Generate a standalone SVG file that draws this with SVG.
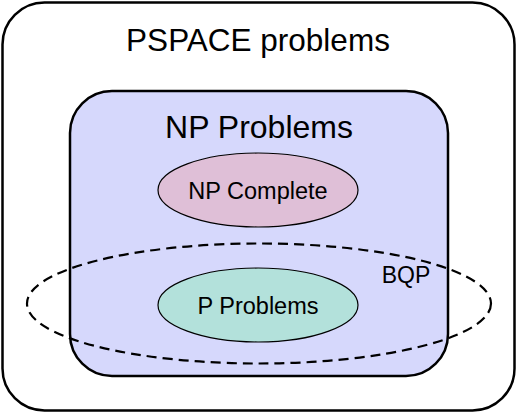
<svg xmlns="http://www.w3.org/2000/svg" width="517" height="413" viewBox="0 0 517 413">
<style>
text{font-family:"Liberation Sans",Arial,sans-serif;fill:#000;text-anchor:middle}
.box{stroke:#000;stroke-width:2.5}
.ell{stroke:#000;stroke-width:1.2}
</style>
<rect width="517" height="413" fill="#fff"/>
<g id="pspace">
<rect class="box" x="2.5" y="2.5" width="512" height="408" rx="42" fill="#fff"/>
<text x="258" y="51" font-size="31.5">PSPACE problems</text>
</g>
<g id="np">
<rect class="box" x="70" y="91" width="378" height="285" rx="42" fill="#d6d8fc"/>
<text x="259" y="138" font-size="32">NP Problems</text>
</g>
<g id="npc">
<ellipse class="ell" cx="258" cy="190" rx="100" ry="37" fill="#dfbfd7"/>
<text x="258" y="199" font-size="23.5">NP Complete</text>
</g>
<g id="p">
<ellipse class="ell" cx="258" cy="305" rx="100" ry="37" fill="#b3e1db"/>
<text x="258" y="314" font-size="23.5">P Problems</text>
</g>
<g id="bqp">
<ellipse cx="259" cy="303.5" rx="232" ry="60" fill="none" stroke="#000" stroke-width="2.2" stroke-dasharray="10,6"/>
<text x="406" y="283" font-size="23">BQP</text>
</g>
<g id="connectors"/>
</svg>
